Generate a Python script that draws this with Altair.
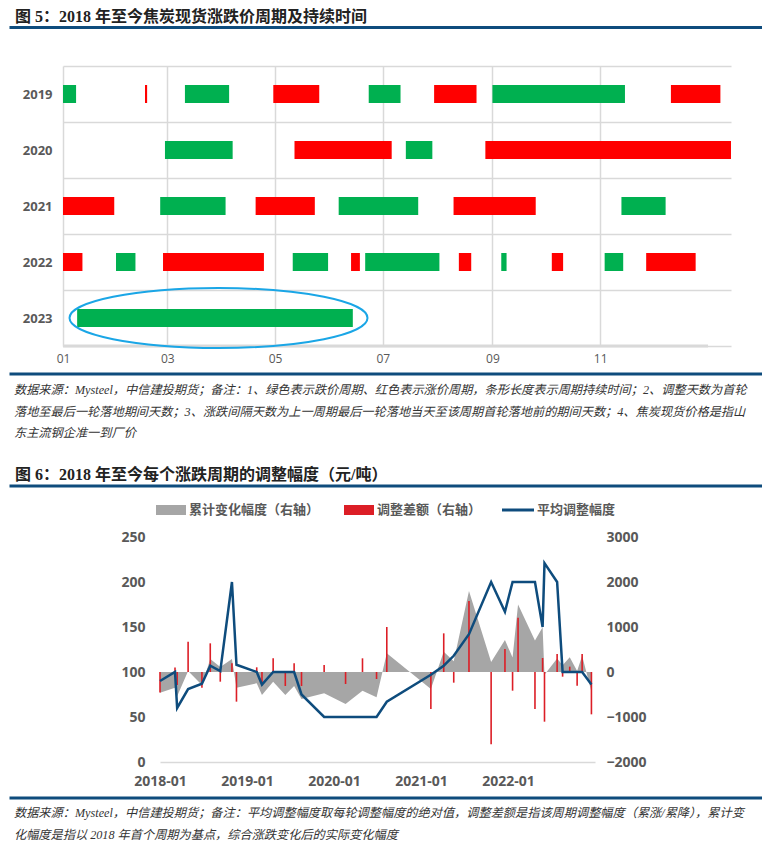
import altair as alt
import pandas as pd

# ---------------- 图5 data ----------------
years = ["2019", "2020", "2021", "2022", "2023"]
bar_year = ["2019"] * 8 + ["2020"] * 4 + ["2021"] * 6 + ["2022"] * 11 + ["2023"]
bar_start = [0, 46.4, 69, 119, 173, 210, 243, 344,
             57.7, 131, 194, 239,
             0, 55, 109, 156, 221, 316,
             0, 30, 56.6, 130, 163, 171, 224, 248, 276.6, 306.5, 330,
             8]
bar_end = [7.4, 47.6, 94, 145, 191, 234, 318, 372,
           96, 186, 209, 378,
           29, 92, 142.5, 201, 267.5, 341,
           11, 41, 113.7, 150, 168, 213, 231, 251, 283, 317, 358,
           164]
bar_kind = ["跌价", "涨价", "跌价", "涨价", "跌价", "涨价", "跌价", "涨价",
            "跌价", "涨价", "跌价", "涨价",
            "涨价", "跌价", "涨价", "跌价", "涨价", "跌价",
            "涨价", "跌价", "涨价", "跌价", "涨价", "跌价", "涨价", "跌价", "涨价", "跌价", "涨价",
            "跌价"]
month_ticks = [0, 59, 120, 181, 243, 304]
month_labels = ["01", "03", "05", "07", "09", "11"]
highlight_day = [88]
highlight_year = ["2023"]

# ---------------- 图6 data ----------------
cycle_dates = ["2018-01-01", "2018-03-05", "2018-03-14", "2018-04-29", "2018-06-26",
               "2018-07-31", "2018-09-11", "2018-10-30", "2018-11-18", "2019-02-11",
               "2019-03-05", "2019-04-21", "2019-06-11", "2019-07-18", "2019-08-18",
               "2019-11-21", "2020-02-19", "2020-04-30", "2020-06-28", "2020-08-10",
               "2021-02-11", "2021-04-06", "2021-05-18", "2021-07-21", "2021-10-22",
               "2021-12-19", "2022-01-20", "2022-02-12", "2022-04-24", "2022-05-26",
               "2022-06-03", "2022-07-26", "2022-08-18", "2022-09-17", "2022-10-18",
               "2022-11-08", "2022-12-17"]
avg_adj = [90, 100, 60, 81, 87, 107, 101, 200, 108, 100,
           86, 100, 100, 100, 75, 50, 50, 50, 50, 67,
           97, 107, 118, 142, 200, 167, 200, 200, 200, 150,
           221, 200, 100, 100, 100, 100, 86]
diff_amt = [-456, 100, -290, 673, -348, 637, -215, 193, -659, 104,
            -252, 304, -311, 193, -311, 156, -267, 304, -156, 1000,
            -822, 859, -237, 1578, -1607, 511, -415, 1207, -822, 311,
            -1104, 400, -104, 119, -304, 400, -941]
cum_chg = [-460, -350, -540, 20, -290, 290, 110, 290, -350, -250,
           -510, -215, -510, -311, -600, -474, -711, -415, -560, 415,
           -380, 452, 240, 1800, 220, 711, 320, 1500, 700, 993,
           -60, 300, 150, 326, 20, 363, -437]
legend_names = ["累计变化幅度（右轴）", "调整差额（右轴）", "平均调整幅度"]
left_ticks = [0, 50, 100, 150, 200, 250]
right_ticks = [-2000, -1000, 0, 1000, 2000, 3000]
year_ticks = [2018, 2019, 2020, 2021, 2022]

# ---------------- styles ----------------
SERIF = "Liberation Serif, Noto Sans CJK SC"
SANS = "Open Sans, Noto Sans CJK SC"
CJK = "Noto Sans CJK SC"
BLUE = "#0E4C7D"
GRID = "#D9D9D9"
LABEL = "#595959"
GREEN = "#00B050"
RED = "#FF0000"
RED2 = "#DC1E26"
GRAY = "#A6A6A6"
NOTE = 12.2

one = pd.DataFrame({"k": [0]})


def text_layer(txt, x, y, size, weight="normal", style="normal", color="#222222", font=SERIF):
    return alt.Chart(one).mark_text(
        align="left", baseline="middle", font=font, fontSize=size,
        fontWeight=weight, fontStyle=style, color=color
    ).encode(x=alt.value(x), y=alt.value(y), text=alt.value(txt))


def hrule(y, x0=-53.5, x1=699):
    return alt.Chart(one).mark_rule(color=BLUE, strokeWidth=3).encode(
        x=alt.value(x0), x2=alt.value(x1), y=alt.value(y))


# ================= Top chart (图5) =================
W1, H1 = 668, 280
bars_df = pd.DataFrame({"year": bar_year, "start": bar_start, "end": bar_end, "kind": bar_kind})

label_expr = ("[" + ",".join(f"'{l}'" for l in month_labels) + "][indexof(["
              + ",".join(str(t) for t in month_ticks) + "], datum.value)]")

x1 = alt.X("start:Q", scale=alt.Scale(domain=[0, 378], nice=False, zero=False),
           axis=alt.Axis(values=month_ticks, labelExpr=label_expr, title=None, grid=True,
                         gridColor=GRID, gridWidth=1.5, domain=False, ticks=False,
                         labelPadding=7, labelFontSize=12, labelColor=LABEL, labelFont=SANS,
                         labelFlush=False))
y1 = alt.Y("year:N", scale=alt.Scale(domain=years, paddingInner=0, paddingOuter=0),
           axis=alt.Axis(title=None, tickBand="extent", grid=True, gridColor=GRID, gridWidth=1.5,
                         domain=False, ticks=False, labelPadding=11, labelFontSize=13,
                         labelFontWeight="bold", labelColor=LABEL, labelFont=SANS))

bars = alt.Chart(bars_df).mark_bar(size=18).encode(
    x=x1, x2="end:Q", y=y1,
    color=alt.Color("kind:N", scale=alt.Scale(domain=["跌价", "涨价"], range=[GREEN, RED]), legend=None),
)

base_line = alt.Chart(pd.DataFrame({"start": [0], "end": [365]})).mark_rule(
    color=GRID, strokeWidth=3).encode(x=x1, x2="end:Q", y=alt.value(H1))

ell_path = ("M-1,0 C-1,-0.1112 -0.5523,-0.2013 0,-0.2013 C0.5523,-0.2013 1,-0.1112 1,0 "
            "C1,0.1112 0.5523,0.2013 0,0.2013 C-0.5523,0.2013 -1,0.1112 -1,0 Z")
ellipse = alt.Chart(pd.DataFrame({"start": highlight_day, "year": highlight_year})).mark_point(
    shape=ell_path, size=88804, filled=False, color="#1AA6E6", strokeWidth=2, opacity=1
).encode(x=x1, y=y1)

anchor = alt.Chart(one).mark_rule(opacity=0, strokeWidth=1).encode(
    x=alt.value(-55), x2=alt.value(-54), y=alt.value(-57.5))

top = alt.layer(
    anchor,
    base_line,
    bars,
    ellipse,
    text_layer("图 5：2018 年至今焦炭现货涨跌价周期及持续时间", -48, -49, 16, weight="bold"),
    hrule(-38.5),
    hrule(308),
    text_layer("数据来源：Mysteel，中信建投期货；备注：1、绿色表示跌价周期、红色表示涨价周期，条形长度表示周期持续时间；2、调整天数为首轮",
               -49, 324, NOTE, style="italic", color="#333333"),
    text_layer("落地至最后一轮落地期间天数；3、涨跌间隔天数为上一周期最后一轮落地当天至该周期首轮落地前的期间天数；4、焦炭现货价格是指山",
               -49, 346, NOTE, style="italic", color="#333333"),
    text_layer("东主流钢企准一到厂价", -49, 367, NOTE, style="italic", color="#333333"),
).properties(width=W1, height=H1)

# ================= Bottom chart (图6) =================
W2, H2 = 532, 225
cyc = pd.DataFrame({"date": cycle_dates, "avg": avg_adj, "diff": diff_amt, "cum": cum_chg})


def dt(y):
    return alt.DateTime(year=y, month=1, date=1, utc=True)


xs = alt.Scale(type="utc", domain=[dt(2018), dt(2023)], range=[97, 532])
x_axis = alt.Axis(values=[dt(y) for y in year_ticks], format="%Y-%m", title=None, grid=False,
                  ticks=False, domain=True, domainColor=GRID, domainWidth=1.5, labelPadding=12,
                  labelFontSize=14, labelFontWeight="bold", labelColor=LABEL, labelFont=SANS,
                  labelFlush=False)
xb = alt.X("date:T", scale=xs, axis=x_axis)

rs = alt.Scale(domain=[-2000, 3000], nice=False, zero=False)
ls = alt.Scale(domain=[0, 250], nice=False, zero=False)
right_axis = alt.Axis(orient="right", values=right_ticks, format="d", title=None, grid=False,
                      ticks=False, domain=False, labelPadding=11, labelFontSize=14,
                      labelFontWeight="bold", labelColor=LABEL, labelFont=SANS)
left_axis = alt.Axis(orient="left", offset=-97, values=left_ticks, format="d", title=None,
                     grid=False, ticks=False, domain=False, labelPadding=15, labelFontSize=14,
                     labelFontWeight="bold", labelColor=LABEL, labelFont=SANS)

area = alt.Chart(cyc).mark_area(color=GRAY, opacity=1).encode(
    x=xb, y=alt.Y("cum:Q", scale=rs, axis=right_axis), y2=alt.datum(0))
diff_rules = alt.Chart(cyc).mark_rule(color=RED2, strokeWidth=1.6).encode(
    x=xb, y=alt.Y("diff:Q", scale=rs, axis=None), y2=alt.datum(0))
avg_line = alt.Chart(cyc).mark_line(color=BLUE, strokeWidth=2.5).encode(
    x=xb, y=alt.Y("avg:Q", scale=ls, axis=left_axis))


# legend (drawn as swatches + labels above the plot)
def swatch(x0, x1_, color, h):
    return alt.Chart(one).mark_rect(color=color).encode(
        x=alt.value(x0), x2=alt.value(x1_), y=alt.value(-27 - h / 2), y2=alt.value(-27 + h / 2))


legend_layers = [
    swatch(93, 123, GRAY, 10),
    text_layer(legend_names[0], 126, -27, 13, weight="bold", color=LABEL, font=CJK),
    swatch(281, 311, RED2, 10),
    text_layer(legend_names[1], 314, -27, 13, weight="bold", color=LABEL, font=CJK),
    swatch(439, 471, BLUE, 3),
    text_layer(legend_names[2], 474, -27, 13, weight="bold", color=LABEL, font=CJK),
]

bottom = alt.layer(
    area,
    diff_rules,
    avg_line,
    *legend_layers,
    text_layer("图 6：2018 年至今每个涨跌周期的调整幅度（元/吨）", -48, -62, 16, weight="bold"),
    hrule(-51),
    hrule(261),
    text_layer("数据来源：Mysteel，中信建投期货；备注：平均调整幅度取每轮调整幅度的绝对值，调整差额是指该周期调整幅度（累涨/累降），累计变",
               -49, 276, NOTE, style="italic", color="#333333"),
    text_layer("化幅度是指以 2018 年首个周期为基点，综合涨跌变化后的实际变化幅度",
               -49, 298, NOTE, style="italic", color="#333333"),
).resolve_scale(y="independent").properties(width=W2, height=H2)

chart = alt.vconcat(top, bottom, spacing=191, bounds="flush").properties(
    padding=0, background="white"
).configure_view(strokeWidth=0)

chart.save("out.html", embed_options={"renderer": "svg", "actions": False})
